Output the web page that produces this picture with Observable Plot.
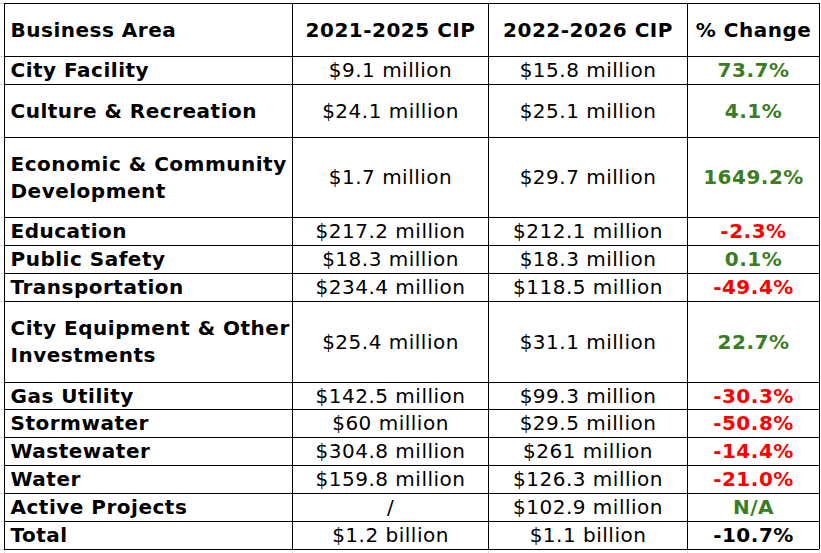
<!DOCTYPE html>
<html><head><meta charset="utf-8">
<script src="https://cdn.jsdelivr.net/npm/d3@7"></script>
<script src="https://cdn.jsdelivr.net/npm/@observablehq/plot@0.6"></script>
<style>body{margin:0;background:#fff;overflow:hidden}</style>
</head><body><div id="chart"></div>
<script>
// ---- data ----
const headers = ["Business Area", "2021-2025 CIP", "2022-2026 CIP", "% Change"];
const businessAreas = ["City Facility", "Culture & Recreation", "Economic & Community\nDevelopment", "Education", "Public Safety", "Transportation", "City Equipment & Other\nInvestments", "Gas Utility", "Stormwater", "Wastewater", "Water", "Active Projects", "Total"];
const cip2021 = ["$9.1 million", "$24.1 million", "$1.7 million", "$217.2 million", "$18.3 million", "$234.4 million", "$25.4 million", "$142.5 million", "$60 million", "$304.8 million", "$159.8 million", "/", "$1.2 billion"];
const cip2022 = ["$15.8 million", "$25.1 million", "$29.7 million", "$212.1 million", "$18.3 million", "$118.5 million", "$31.1 million", "$99.3 million", "$29.5 million", "$261 million", "$126.3 million", "$102.9 million", "$1.1 billion"];
const pctChange = ["73.7%", "4.1%", "1649.2%", "-2.3%", "0.1%", "-49.4%", "22.7%", "-30.3%", "-50.8%", "-14.4%", "-21.0%", "N/A", "-10.7%"];

// ---- layout ----
const W = 821, H = 553;
const colEdges = [4, 292, 488, 687, 819];
const rowHeights = [53, 28, 53, 80, 28, 28, 28, 81, 27, 28, 28, 28, 28, 28];
const top0 = 3;
const rowEdges = [top0];
rowHeights.forEach(h => rowEdges.push(rowEdges[rowEdges.length - 1] + h));
const rowMid = i => (rowEdges[i] + rowEdges[i + 1]) / 2;
const colMid = j => (colEdges[j] + colEdges[j + 1]) / 2;

const GREEN = "#3a7d22", RED = "#ff0000", BLACK = "#000000";
const changeColor = (s, i) => i === businessAreas.length - 1 ? BLACK : (s.startsWith("-") ? RED : GREEN);

const headerLeft = [{text: headers[0], x: colEdges[0] + 6, y: rowMid(0)}];
const headerCenter = headers.slice(1).map((t, j) => ({text: t, x: colMid(j + 1), y: rowMid(0)}));
const areaCells = businessAreas.map((t, i) => ({text: t, x: colEdges[0] + 6, y: rowMid(i + 1)}));
const valueCells = [
  ...cip2021.map((t, i) => ({text: t, x: colMid(1), y: rowMid(i + 1)})),
  ...cip2022.map((t, i) => ({text: t, x: colMid(2), y: rowMid(i + 1)}))
];
const changeCells = pctChange.map((t, i) => ({text: t, x: colMid(3), y: rowMid(i + 1), color: changeColor(t, i)}));

const font = "DejaVu Sans";
const common = {fontFamily: font, fontSize: 20, lineHeight: 1.35, lineAnchor: "middle", dy: -2};

const chart = Plot.plot({
  width: W, height: H,
  margin: 0,
  x: {domain: [0, W], range: [0, W], axis: null},
  y: {domain: [0, H], range: [0, H], axis: null},
  color: {type: "identity"},
  style: {background: "#fff", overflow: "visible", letterSpacing: "0.5px"},
  marks: [
    // faint spreadsheet gridlines outside the table
    Plot.ruleY(rowEdges, {x1: 0, x2: colEdges[0], stroke: "#d9d9d9", strokeWidth: 1}),
    Plot.ruleX(colEdges, {y1: rowEdges[rowEdges.length - 1], y2: H, stroke: "#d9d9d9", strokeWidth: 1}),
    // table borders
    Plot.ruleY(rowEdges, {x1: colEdges[0], x2: colEdges[colEdges.length - 1], stroke: "#000", strokeWidth: 1}),
    Plot.ruleX(colEdges, {y1: rowEdges[0], y2: rowEdges[rowEdges.length - 1], stroke: "#000", strokeWidth: 1}),
    // text
    Plot.text(headerLeft, {...common, x: "x", y: "y", text: "text", textAnchor: "start", fontWeight: "bold", fill: BLACK}),
    Plot.text(headerCenter, {...common, x: "x", y: "y", text: "text", textAnchor: "middle", fontWeight: "bold", fill: BLACK}),
    Plot.text(areaCells, {...common, x: "x", y: "y", text: "text", textAnchor: "start", fontWeight: "bold", fill: BLACK}),
    Plot.text(valueCells, {...common, x: "x", y: "y", text: "text", textAnchor: "middle", fill: BLACK}),
    Plot.text(changeCells, {...common, x: "x", y: "y", text: "text", textAnchor: "middle", fontWeight: "bold", fill: "color"})
  ]
});
document.getElementById("chart").appendChild(chart);
</script>
</body></html>
